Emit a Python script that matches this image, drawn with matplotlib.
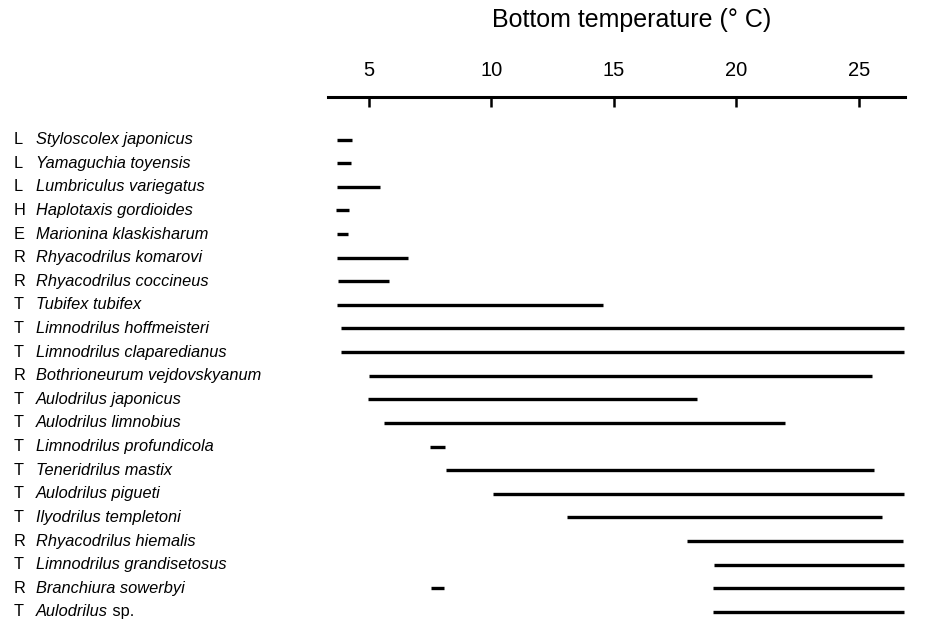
import matplotlib
matplotlib.use('Agg')
import matplotlib.pyplot as plt
from matplotlib.transforms import blended_transform_factory

plt.rcParams['font.family'] = ['Liberation Sans', 'DejaVu Sans']

# family code, species and temperature range (deg C) where each was found
families = ['L', 'L', 'L', 'H', 'E', 'R', 'R', 'T', 'T', 'T', 'R',
            'T', 'T', 'T', 'T', 'T', 'T', 'R', 'T', 'R', 'T']
species = ['Styloscolex japonicus', 'Yamaguchia toyensis', 'Lumbriculus variegatus',
           'Haplotaxis gordioides', 'Marionina klaskisharum', 'Rhyacodrilus komarovi',
           'Rhyacodrilus coccineus', 'Tubifex tubifex', 'Limnodrilus hoffmeisteri',
           'Limnodrilus claparedianus', 'Bothrioneurum vejdovskyanum', 'Aulodrilus japonicus',
           'Aulodrilus limnobius', 'Limnodrilus profundicola', 'Teneridrilus mastix',
           'Aulodrilus pigueti', 'Ilyodrilus templetoni', 'Rhyacodrilus hiemalis',
           'Limnodrilus grandisetosus', 'Branchiura sowerbyi', 'Aulodrilus']
t_min = [3.7, 3.7, 3.7, 3.65, 3.7, 3.7, 3.75, 3.7, 3.85, 3.85, 5.0,
         4.95, 5.6, 7.5, 8.15, 10.05, 13.1, 18.0, 19.1, 19.05, 19.05]
t_max = [4.3, 4.25, 5.45, 4.2, 4.15, 6.6, 5.8, 14.55, 26.85, 26.85, 25.55,
         18.4, 22.0, 8.1, 25.6, 26.85, 25.95, 26.8, 26.85, 26.85, 26.85]
# Branchiura sowerbyi has a second, isolated record
extra_row = 19
extra_min = 7.55
extra_max = 8.05

W, H = 938, 620
fig = plt.figure(figsize=(W / 100, H / 100), dpi=100)
ax = fig.add_axes([328 / W, 0, (905 - 328) / W, (H - 97) / H])

ax.set_xlim(3.33, 26.88)
ax.set_ylim(20.34, -1.8)

ax.hlines(range(len(species)), t_min, t_max, color='black', lw=2.4, capstyle='butt')
ax.hlines(extra_row, extra_min, extra_max, color='black', lw=2.4, capstyle='butt')

for s in ['bottom', 'left', 'right']:
    ax.spines[s].set_visible(False)
ax.spines['top'].set_linewidth(2.2)
ax.xaxis.set_ticks_position('top')
ax.set_xticks([5, 10, 15, 20, 25])
ax.tick_params(axis='x', direction='in', length=7.5, width=1.8, pad=12, labelsize=14.5)
ax.set_yticks([])

tr = blended_transform_factory(fig.transFigure, ax.transData)
for i, (fam, sp) in enumerate(zip(families, species)):
    ax.text(14 / W, i, fam, transform=tr, fontsize=11.8, va='center', ha='left')
    t = ax.text(36 / W, i, sp, transform=tr, fontsize=11.8, style='italic',
                va='center', ha='left')
    if i == len(species) - 1:
        ax.annotate(' sp.', xy=(1, 0), xycoords=t, fontsize=11.8,
                    va='bottom', ha='left')

fig.text(632 / W, 1 - 20 / H, 'Bottom temperature (° C)', fontsize=18,
         ha='center', va='center')

fig.savefig('out.png', dpi=100)
